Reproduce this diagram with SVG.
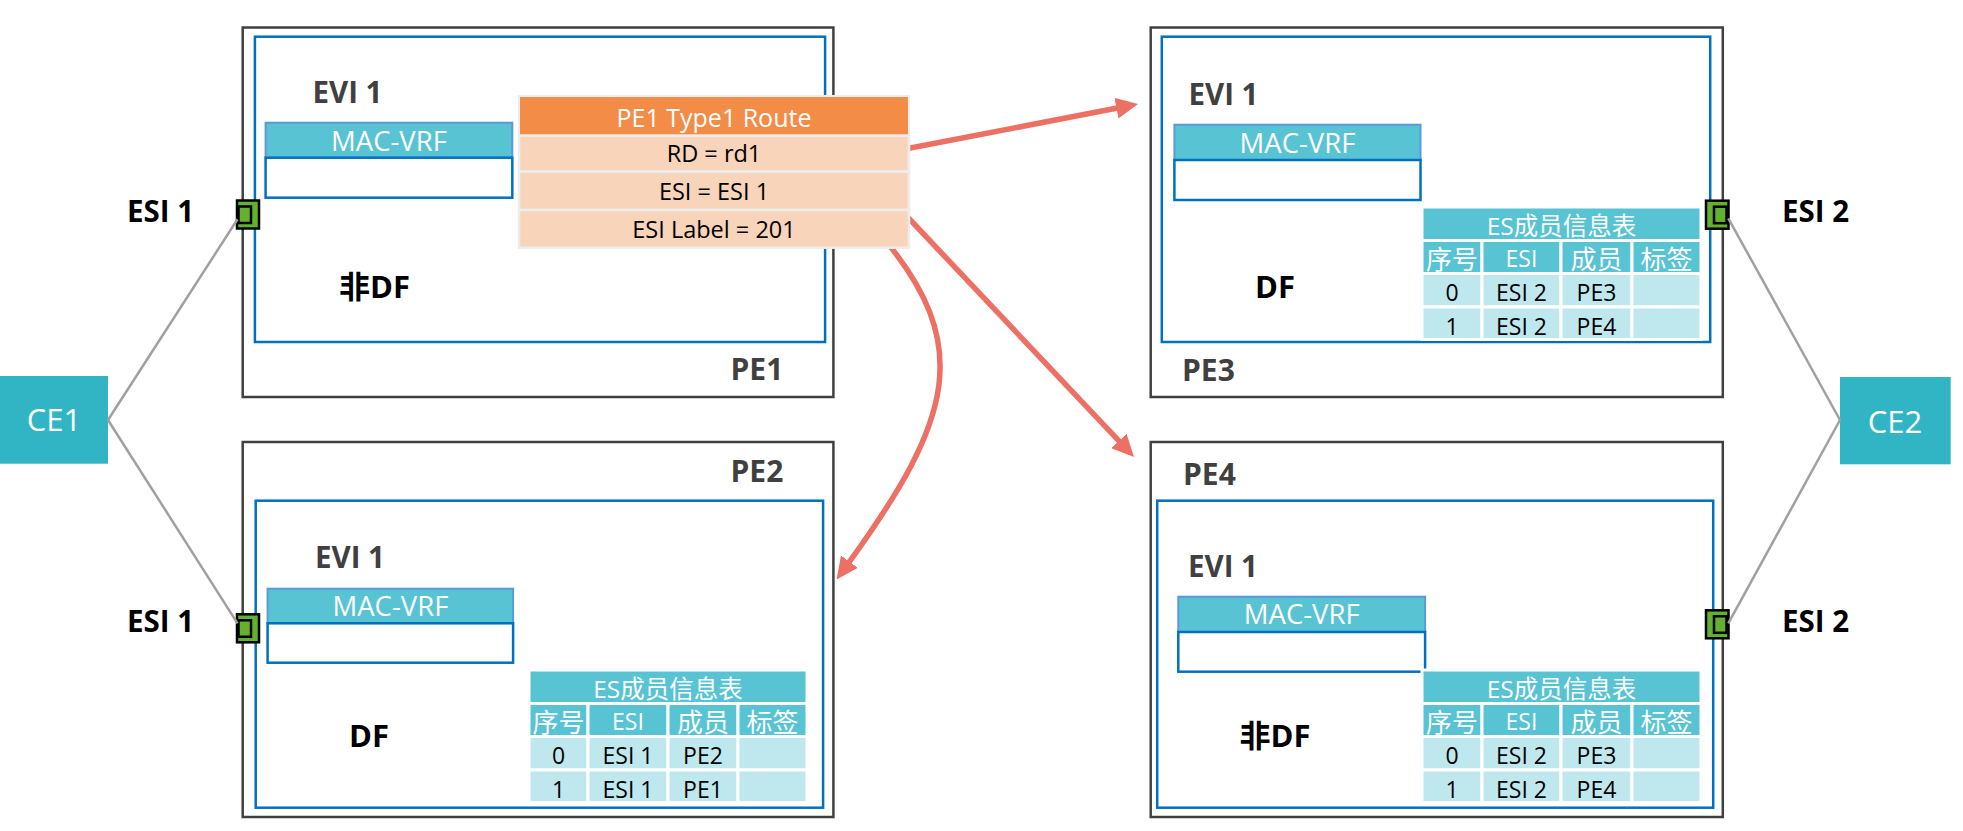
<svg xmlns="http://www.w3.org/2000/svg" width="1963" height="831" viewBox="0 0 1963 831">
<style>
text{font-family:"Open Sans","Noto Sans CJK SC",sans-serif}
.pe{fill:#fff;stroke:#404040;stroke-width:2.5}
.evi{fill:none;stroke:#0070C0;stroke-width:2.5}
.mvh{fill:#57C3D3;stroke:#5B9BD5;stroke-width:2}
.mvb{fill:#fff;stroke:#0070C0;stroke-width:2.5}
.lbl{font-weight:700;font-size:30px;fill:#404040}
.evit{font-weight:700;font-size:29.5px;fill:#404040}
.mvt{font-size:27.5px;fill:#fff;text-anchor:middle}
.df{font-weight:700;font-size:31px;fill:#000}
.esi{font-weight:700;font-size:29.5px;fill:#000}
.th{fill:#57C3D3;stroke:#fff;stroke-width:3}
.td{fill:#BFE8EE;stroke:#fff;stroke-width:3}
.tt{font-size:24.5px;fill:#fff;text-anchor:middle}
.hh{font-size:26px;fill:#fff;text-anchor:middle}
.hl{font-size:23px;fill:#fff;text-anchor:middle}
.dd{font-size:23px;fill:#000;text-anchor:middle}
.port{fill:#62B22F;stroke:#000;stroke-width:2.5}
.link{stroke:#A0A0A0;stroke-width:2.5;fill:none}
.arr{stroke:#EC7063;stroke-width:5.5;fill:none;marker-end:url(#ah)}
.ce{fill:#31B5C4}
.cet{font-size:31px;fill:#fff;text-anchor:middle}
.rh{fill:#F28C46;stroke:#EDEDED;stroke-width:2}
.rr{fill:#F8D4BA;stroke:#EDEDED;stroke-width:2.5}
.rht{font-size:25px;fill:#fff;text-anchor:middle}
.rrt{font-size:23.5px;fill:#000;text-anchor:middle}
</style>
<defs>
<marker id="ah" markerUnits="userSpaceOnUse" markerWidth="22" markerHeight="21" viewBox="0 0 22 21" refX="1" refY="10.5" orient="auto">
<path d="M0,0 L22,10.5 L0,21 z" fill="#EC7063"/>
</marker>
</defs>

<g id="PE1">
<rect class="pe" x="242.7" y="27.5" width="590.7" height="369.5"/>
<rect class="evi" x="254.9" y="36.7" width="570.2" height="305.3"/>
<text class="evit" x="312.5" y="103.3">EVI 1</text>
<rect class="mvh" x="265.6" y="122.7" width="246.7" height="35"/>
<rect class="mvb" x="265.6" y="157.7" width="246.7" height="40"/>
<text class="mvt" x="389" y="150.7">MAC-VRF</text>
<text class="df" x="339" y="297.7">非DF</text>
<text class="lbl" x="730.5" y="380">PE1</text>
<rect class="port" x="237" y="200.5" width="22" height="28"/>
<rect class="port" x="238.5" y="206.5" width="12.5" height="16.5"/>
</g>

<g id="PE2">
<rect class="pe" x="242.7" y="442" width="590.7" height="375"/>
<rect class="evi" x="255.7" y="500.7" width="567.4" height="307"/>
<text class="lbl" x="730.5" y="481.7">PE2</text>
<text class="evit" x="315" y="568.3">EVI 1</text>
<rect class="mvh" x="267.6" y="588.7" width="245.5" height="34.6"/>
<rect class="mvb" x="267.6" y="623.3" width="245.5" height="39.4"/>
<text class="mvt" x="390.4" y="616">MAC-VRF</text>
<text class="df" x="349" y="746.7">DF</text>
<rect class="port" x="237" y="614.3" width="22" height="28"/>
<rect class="port" x="238.5" y="620.3" width="12.5" height="16.5"/>
<g id="PE2-table">
<rect class="th" x="529" y="670" width="278" height="33.5"/>
<rect class="th" x="529" y="703.5" width="59" height="33"/>
<rect class="th" x="588" y="703.5" width="80" height="33"/>
<rect class="th" x="668" y="703.5" width="70" height="33"/>
<rect class="th" x="738" y="703.5" width="69" height="33"/>
<rect class="td" x="529" y="736.5" width="59" height="33.5"/>
<rect class="td" x="588" y="736.5" width="80" height="33.5"/>
<rect class="td" x="668" y="736.5" width="70" height="33.5"/>
<rect class="td" x="738" y="736.5" width="69" height="33.5"/>
<rect class="td" x="529" y="770" width="59" height="32.5"/>
<rect class="td" x="588" y="770" width="80" height="32.5"/>
<rect class="td" x="668" y="770" width="70" height="32.5"/>
<rect class="td" x="738" y="770" width="69" height="32.5"/>
<text class="tt" x="668" y="698">ES成员信息表</text>
<text class="hh" x="558.5" y="731.5">序号</text>
<text class="hl" x="628" y="729.5">ESI</text>
<text class="hh" x="703" y="731.5">成员</text>
<text class="hh" x="772.5" y="731.5">标签</text>
<text class="dd" x="558.5" y="763.5">0</text>
<text class="dd" x="628" y="763.5">ESI 1</text>
<text class="dd" x="703" y="763.5">PE2</text>
<text class="dd" x="558.5" y="797.5">1</text>
<text class="dd" x="628" y="797.5">ESI 1</text>
<text class="dd" x="703" y="797.5">PE1</text>
</g>
</g>

<g id="PE3">
<rect class="pe" x="1150.7" y="27.5" width="572.1" height="369.5"/>
<rect class="evi" x="1161.8" y="36.7" width="548.4" height="305.3"/>
<text class="evit" x="1188.5" y="105">EVI 1</text>
<rect class="mvh" x="1174.4" y="124.7" width="246.1" height="35.3"/>
<rect class="mvb" x="1174.4" y="160" width="246.1" height="40"/>
<text class="mvt" x="1297.5" y="152.7">MAC-VRF</text>
<text class="df" x="1255" y="297.7">DF</text>
<text class="lbl" x="1182" y="380.7">PE3</text>
<rect class="port" x="1706" y="200.7" width="22.5" height="28"/>
<rect class="port" x="1714" y="206.7" width="12.5" height="16.5"/>
<g id="PE3-table">
<rect class="th" x="1422" y="207" width="279" height="33.5"/>
<rect class="th" x="1422" y="240.5" width="60" height="33"/>
<rect class="th" x="1482" y="240.5" width="79" height="33"/>
<rect class="th" x="1561" y="240.5" width="71" height="33"/>
<rect class="th" x="1632" y="240.5" width="69" height="33"/>
<rect class="td" x="1422" y="273.5" width="60" height="33.5"/>
<rect class="td" x="1482" y="273.5" width="79" height="33.5"/>
<rect class="td" x="1561" y="273.5" width="71" height="33.5"/>
<rect class="td" x="1632" y="273.5" width="69" height="33.5"/>
<rect class="td" x="1422" y="307" width="60" height="32.5"/>
<rect class="td" x="1482" y="307" width="79" height="32.5"/>
<rect class="td" x="1561" y="307" width="71" height="32.5"/>
<rect class="td" x="1632" y="307" width="69" height="32.5"/>
<text class="tt" x="1561.5" y="235">ES成员信息表</text>
<text class="hh" x="1452" y="268.5">序号</text>
<text class="hl" x="1521.5" y="266.5">ESI</text>
<text class="hh" x="1596.5" y="268.5">成员</text>
<text class="hh" x="1666.5" y="268.5">标签</text>
<text class="dd" x="1452" y="300.5">0</text>
<text class="dd" x="1521.5" y="300.5">ESI 2</text>
<text class="dd" x="1596.5" y="300.5">PE3</text>
<text class="dd" x="1452" y="334.5">1</text>
<text class="dd" x="1521.5" y="334.5">ESI 2</text>
<text class="dd" x="1596.5" y="334.5">PE4</text>
</g>
</g>

<g id="PE4">
<rect class="pe" x="1150.7" y="442" width="572.1" height="375"/>
<rect class="evi" x="1157.2" y="500.7" width="556" height="307"/>
<text class="lbl" x="1183" y="485">PE4</text>
<text class="evit" x="1188" y="576.7">EVI 1</text>
<rect class="mvh" x="1178.3" y="596.7" width="246.8" height="35.3"/>
<rect class="mvb" x="1178.3" y="632" width="246.8" height="39.7"/>
<text class="mvt" x="1301.7" y="624.3">MAC-VRF</text>
<text class="df" x="1239.5" y="746.7">非DF</text>
<rect class="port" x="1706" y="610.3" width="22.5" height="28"/>
<rect class="port" x="1714" y="616.3" width="12.5" height="16.5"/>
<g id="PE4-table">
<rect class="th" x="1422" y="670" width="279" height="33.5"/>
<rect class="th" x="1422" y="703.5" width="60" height="33"/>
<rect class="th" x="1482" y="703.5" width="79" height="33"/>
<rect class="th" x="1561" y="703.5" width="71" height="33"/>
<rect class="th" x="1632" y="703.5" width="69" height="33"/>
<rect class="td" x="1422" y="736.5" width="60" height="33.5"/>
<rect class="td" x="1482" y="736.5" width="79" height="33.5"/>
<rect class="td" x="1561" y="736.5" width="71" height="33.5"/>
<rect class="td" x="1632" y="736.5" width="69" height="33.5"/>
<rect class="td" x="1422" y="770" width="60" height="32.5"/>
<rect class="td" x="1482" y="770" width="79" height="32.5"/>
<rect class="td" x="1561" y="770" width="71" height="32.5"/>
<rect class="td" x="1632" y="770" width="69" height="32.5"/>
<text class="tt" x="1561.5" y="698">ES成员信息表</text>
<text class="hh" x="1452" y="731.5">序号</text>
<text class="hl" x="1521.5" y="729.5">ESI</text>
<text class="hh" x="1596.5" y="731.5">成员</text>
<text class="hh" x="1666.5" y="731.5">标签</text>
<text class="dd" x="1452" y="763.5">0</text>
<text class="dd" x="1521.5" y="763.5">ESI 2</text>
<text class="dd" x="1596.5" y="763.5">PE3</text>
<text class="dd" x="1452" y="797.5">1</text>
<text class="dd" x="1521.5" y="797.5">ESI 2</text>
<text class="dd" x="1596.5" y="797.5">PE4</text>
</g>
</g>

<g id="CE1">
<rect class="ce" x="0" y="376" width="108" height="87.7"/>
<text class="cet" x="54" y="431">CE1</text>
</g>
<g id="CE2">
<rect class="ce" x="1840" y="377" width="110.7" height="87.3"/>
<text class="cet" x="1895" y="432.5">CE2</text>
</g>

<g id="esi-labels">
<text class="esi" x="127" y="221.7">ESI 1</text>
<text class="esi" x="127" y="631.7">ESI 1</text>
<text class="esi" x="1782" y="221.7">ESI 2</text>
<text class="esi" x="1782" y="631.7">ESI 2</text>
</g>

<g id="connectors">
<line class="link" x1="108" y1="420" x2="237.5" y2="219.3"/>
<line class="link" x1="108" y1="420" x2="237.5" y2="623.3"/>
<line class="link" x1="1840" y1="420" x2="1728.3" y2="218.3"/>
<line class="link" x1="1840" y1="420" x2="1728.3" y2="623.3"/>
<path class="arr" d="M 900 150 L 1117.4 108"/>
<path class="arr" d="M 900 209 L 1119.6 441.7"/>
<path class="arr" d="M 880 234 C 975 345, 952 420, 848.9 562.5"/>
</g>

<g id="route">
<rect class="rh" x="519" y="96" width="390" height="39.7"/>
<rect class="rr" x="519" y="135.7" width="390" height="36"/>
<rect class="rr" x="519" y="171.7" width="390" height="38.3"/>
<rect class="rr" x="519" y="210" width="390" height="37.7"/>
<text class="rht" x="714" y="126.5">PE1 Type1 Route</text>
<text class="rrt" x="714" y="162">RD = rd1</text>
<text class="rrt" x="714" y="199.5">ESI = ESI 1</text>
<text class="rrt" x="714" y="238">ESI Label = 201</text>
</g>
</svg>
